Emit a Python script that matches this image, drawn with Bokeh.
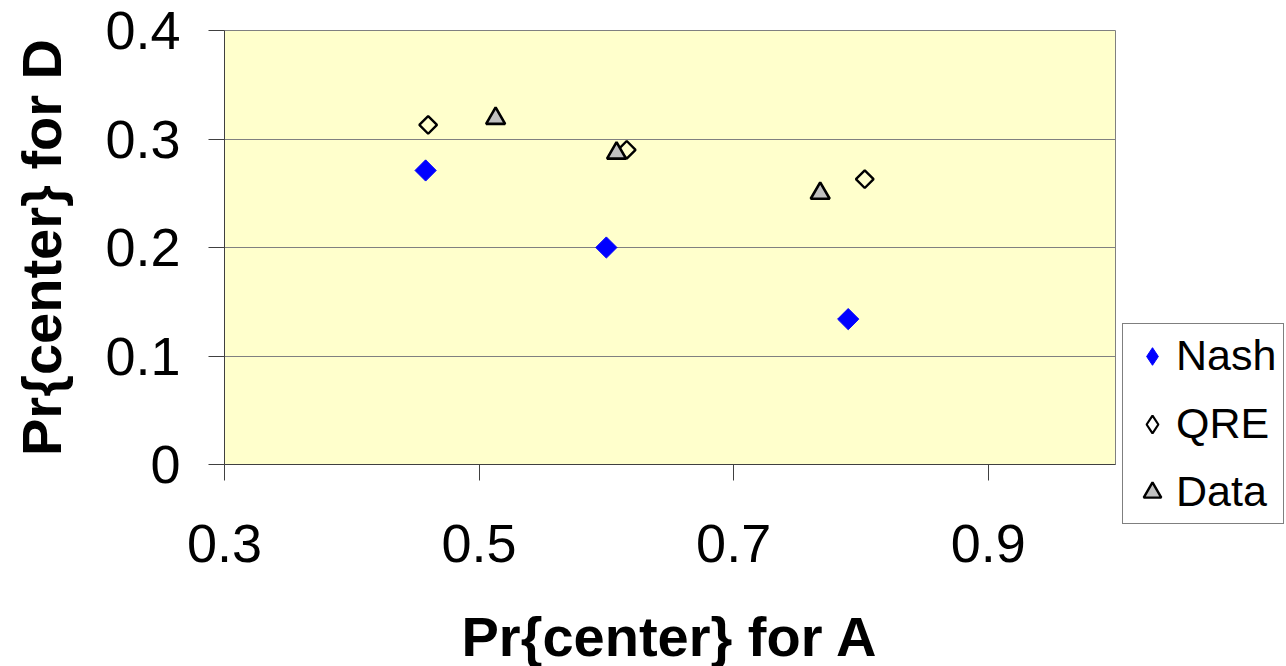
import math
from bokeh.plotting import figure
from bokeh.models import Legend, LegendItem, FixedTicker, Range1d, ColumnDataSource
from bokeh.embed import file_html
from bokeh.resources import INLINE

# ---- data ----
nash_x = [0.458, 0.600, 0.790]
nash_y = [0.271, 0.200, 0.134]
qre_x = [0.460, 0.616, 0.803]
qre_y = [0.313, 0.290, 0.263]
data_x = [0.513, 0.608, 0.768]
data_y = [0.319, 0.287, 0.250]

x_ticks = [0.3, 0.5, 0.7, 0.9]
x_tick_labels = ["0.3", "0.5", "0.7", "0.9"]
y_ticks = [0, 0.1, 0.2, 0.3, 0.4]
y_tick_labels = ["0", "0.1", "0.2", "0.3", "0.4"]
series_names = ["Nash", "QRE", "Data"]

FONT = "Liberation Sans"

src_nash = ColumnDataSource(dict(x=nash_x, y=nash_y))
src_qre = ColumnDataSource(dict(x=qre_x, y=qre_y))
src_data = ColumnDataSource(dict(x=data_x, y=data_y))

p = figure(frame_width=891, frame_height=434,
           x_range=Range1d(0.3, 1.0), y_range=Range1d(0, 0.4),
           output_backend="svg", toolbar_location=None,
           min_border_left=224, min_border_right=171,
           min_border_top=30, min_border_bottom=202)

p.background_fill_color = "#FFFFCC"
p.border_fill_color = "white"
p.outline_line_color = "#808080"
p.outline_line_width = 1

# axes
p.xaxis.ticker = FixedTicker(ticks=x_ticks)
p.yaxis.ticker = FixedTicker(ticks=y_ticks)
p.xaxis.major_label_overrides = {t: l for t, l in zip(x_ticks, x_tick_labels)}
p.yaxis.major_label_overrides = {t: l for t, l in zip(y_ticks, y_tick_labels)}

for ax in (p.xaxis[0], p.yaxis[0]):
    ax.axis_line_color = "#404040"
    ax.axis_line_width = 1
    ax.major_tick_line_color = "#404040"
    ax.major_tick_out = 16
    ax.major_tick_in = 0
    ax.minor_tick_line_color = None
    ax.major_label_text_font = FONT
    ax.major_label_text_font_size = "54px"
    ax.major_label_text_color = "black"
    ax.axis_label_text_font = FONT
    ax.axis_label_text_font_size = "56px"
    ax.axis_label_text_font_style = "bold"
    ax.axis_label_text_color = "black"

p.xaxis.axis_label = "Pr{center} for A"
p.yaxis.axis_label = "Pr{center} for D"
p.xaxis.major_label_standoff = 44
p.xaxis.axis_label_standoff = 40
p.yaxis.major_label_standoff = 28
p.yaxis.axis_label_standoff = 29

p.xgrid.grid_line_color = None
p.ygrid.grid_line_color = "#808080"
p.ygrid.grid_line_width = 1

# glyphs
nash_style = dict(fill_color="#0000FF", line_color="#0000FF", line_width=1)
qre_style = dict(fill_color="white", line_color="black", line_width=2.2)
data_style = dict(fill_color="#C0C0C0", line_color="black", line_width=2.4)

p.scatter("x", "y", source=src_nash, marker="square", size=15, angle=math.pi / 4, **nash_style)
p.scatter("x", "y", source=src_qre, marker="square", size=12.5, angle=math.pi / 4,
          fill_alpha=0.0, line_color="black", line_width=2.4)
r_data = p.scatter("x", "y", source=src_data, marker="triangle", size=19,
                   fill_color="#C0C0C0", line_color="black", line_width=2.6)

# legend-only renderers for the diamonds (legend glyphs are never rotated):
# kept muted with an invisible muted glyph, so nothing extra shows in the plot
l_nash = p.scatter("x", "y", source=src_nash, marker="diamond", muted_alpha=0.0, **nash_style)
l_qre = p.scatter("x", "y", source=src_qre, marker="diamond", muted_alpha=0.0, **qre_style)
l_nash.muted = True
l_qre.muted = True
l_data = p.scatter("x", "y", source=src_data, marker="triangle", muted_alpha=0.0, **data_style)
l_data.muted = True

legend = Legend(items=[LegendItem(label=series_names[0], renderers=[l_nash]),
                       LegendItem(label=series_names[1], renderers=[l_qre]),
                       LegendItem(label=series_names[2], renderers=[l_data])],
                location=(7, -60), margin=0, padding=7, spacing=19,
                glyph_width=44, glyph_height=46, label_standoff=2,
                label_text_font=FONT, label_text_font_size="43px",
                label_text_color="black",
                border_line_color="black", border_line_width=1,
                background_fill_color="white", background_fill_alpha=1.0)
p.add_layout(legend, "right")

open("out.html", "w").write(file_html(p, INLINE))
